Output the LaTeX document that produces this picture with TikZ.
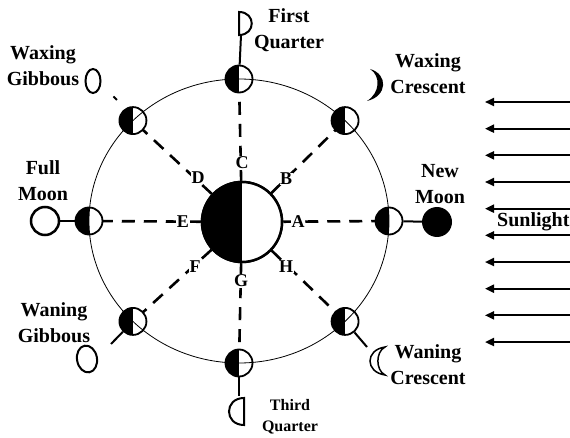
\documentclass[tikz,border=0pt]{standalone}
\usepackage{fontspec}
\setmainfont{Liberation Serif}
\usetikzlibrary{arrows.meta}
\begin{document}
\begin{tikzpicture}[x=1pt,y=-1pt,
  halfdark/.style={circle, draw, fill=white, inner sep=0pt,
    path picture={\fill[black] (path picture bounding box.north) rectangle (path picture bounding box.south west);}},
  moonbody/.style={halfdark, line width=1.8pt, minimum size=27pt},
  earthbody/.style={halfdark, line width=2.5pt, minimum size=80pt},
  sightline/.style={line width=2.6pt, dash pattern=on 13pt off 9pt},
  link/.style={line width=2pt},
  lbl/.style={align=center, font=\fontsize{20}{26}\selectfont\bfseries, inner sep=0pt},
  smalllbl/.style={align=center, font=\fontsize{16}{21}\selectfont\bfseries, inner sep=0pt},
  letter/.style={font=\fontsize{18}{18}\selectfont\bfseries, fill=white, inner sep=0.5pt},
  ray/.style={line width=2pt, -{Triangle[length=9pt,width=8pt]}},
  phase/.style={line width=2pt}
]
\useasboundingbox (0,0) rectangle (570,438);

% Earth and the eight positions of the Moon on its orbit
\node[earthbody] (earth) at (242,222) {};
\foreach \a in {0,45,...,315}
  \coordinate (p\a) at ({239+150*cos(\a)},{221-142*sin(\a)});

% lines of sight from the Earth to each Moon position
\foreach \a in {0,45,...,315}
  \draw[sightline] (earth) -- (p\a);
\node[earthbody] at (earth) {};

% letters on the lines of sight
\node[letter] (lA) at (298,222) {A};
\node[letter] (lB) at (286,179) {B};
\node[letter] (lC) at (242,163) {C};
\node[letter] (lD) at (198,178) {D};
\node[letter] (lE) at (183,222) {E};
\node[letter] (lF) at (195,267) {F};
\node[letter] (lG) at (241,281) {G};
\node[letter] (lH) at (286,267) {H};

% Moon positions (sunlit half on the right)
\foreach \a in {0,45,...,315}
  \node[moonbody] (m\a) at (p\a) {};

% orbit
\draw[line width=0.8pt] (239,221) ellipse [x radius=150, y radius=142];

% New Moon
\node[circle, fill=black, minimum size=30pt, inner sep=0pt] (newmoon) at (437,222) {};
\draw[link] (m0) -- (newmoon);
\node[lbl] (tnew) at (440,184) {New\\Moon};

% Waxing Crescent
\fill[black] (370,69) .. controls (388,74) and (388,96) .. (367,101)
  .. controls (380,93) and (381,76) .. (370,69) -- cycle;
\node[lbl] (twxc) at (428,74) {Waxing\\Crescent};

% First Quarter
\coordinate (fqbase) at (241,35);
\draw[phase] (239,12) -- (239,35) .. controls (256,35) and (256,12) .. (239,12) -- cycle;
\draw[link] (m90) -- (fqbase);
\node[lbl] (tfq) at (289,30) {First\\Quarter};

% Waxing Gibbous
\coordinate (wxgtip) at (113.5,96.5);
\draw[link] (117,100) -- (wxgtip);
\draw[phase] (93,81) ellipse [x radius=7.5, y radius=12];
\node[lbl] (twxg) at (43,66) {Waxing\\Gibbous};

% Full Moon
\node[circle, draw, line width=2.5pt, fill=white, minimum size=28pt, inner sep=0pt] (fullmoon) at (45,221) {};
\draw[link] (m180) -- (fullmoon);
\node[lbl] (tfull) at (43,181) {Full\\Moon};

% Waning Gibbous
\coordinate (wngtip) at (111,344);
\draw[link] (m225) -- (wngtip);
\draw[phase, rotate around={10:(87,359)}] (87,359) ellipse [x radius=10, y radius=13.5];
\node[lbl] (twng) at (54,323) {Waning\\Gibbous};

% Third Quarter
\coordinate (tqtop) at (239,396);
\draw[link] (m270) -- (tqtop);
\draw[phase] (244,398) -- (244,425) .. controls (224,425) and (224,398) .. (244,398) -- cycle;
\node[smalllbl] (ttq) at (290,417) {Third\\Quarter};

% Waning Crescent
\coordinate (wnctip) at (367,347);
\draw[link] (m315) -- (wnctip);
\draw[line width=1.5pt, fill=white] (385,347) .. controls (365,350) and (365,372) .. (385,375)
  .. controls (375.5,370) and (375.5,352) .. (385,347) -- cycle;
\node[lbl] (twnc) at (428,365) {Waning\\Crescent};

% Sunlight
\foreach \k in {0,...,9}
  \draw[ray] (572,{102+26.67*\k}) -- (485,{102+26.67*\k});
\node[lbl, anchor=west] (tsun) at (497,222) {Sunlight};
\end{tikzpicture}
\end{document}
